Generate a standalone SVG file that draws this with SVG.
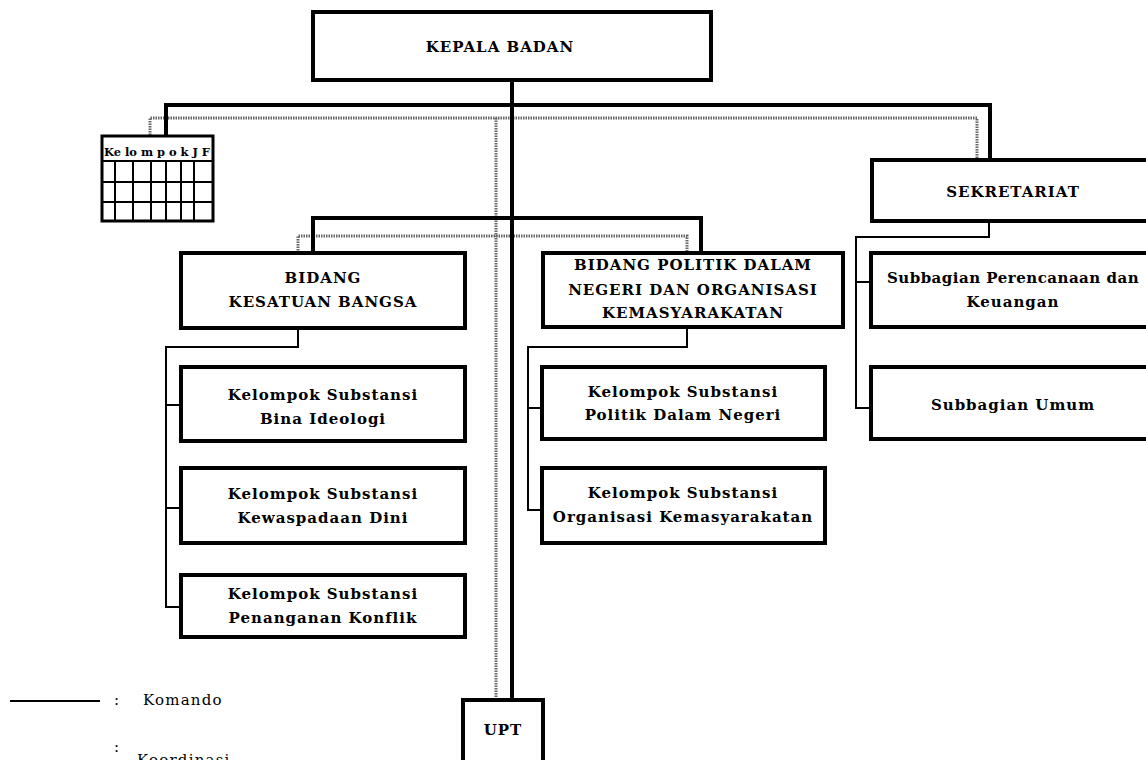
<svg xmlns="http://www.w3.org/2000/svg" width="1146" height="760" viewBox="0 0 1146 760">
<style>
.box{fill:#fff;stroke:#000;stroke-width:4}
.cmd{stroke:#000;stroke-width:4;fill:none}
.thin{stroke:#000;stroke-width:2;fill:none}
.coord{stroke:#666;stroke-width:3;stroke-dasharray:1.5 1;fill:none}
.grid{stroke:#000;stroke-width:2;fill:none}
.t{font-family:"DejaVu Serif","Liberation Serif",serif;font-weight:bold;font-size:15px;letter-spacing:1px;text-anchor:middle;fill:#000}
.lg{font-family:"DejaVu Serif","Liberation Serif",serif;font-size:15px;letter-spacing:1.2px;fill:#000}
</style>
<rect width="1146" height="760" fill="#fff"/>
<g id="connectors">
  <path class="coord" d="M150,135 V118 H977 V160"/>
  <path class="coord" d="M496,118 V700"/>
  <path class="coord" d="M298,253 V236 H687 V253"/>
  <path class="cmd" d="M512,80 V700"/>
  <path class="cmd" d="M166,135 V105 H990 V160"/>
  <path class="cmd" d="M313,253 V218 H701 V253"/>
  <path class="thin" d="M298,328 V347 H166 V607 H181 M166,405 H181 M166,508 H181"/>
  <path class="thin" d="M687,327 V347 H528 V510 H542 M528,408 H542"/>
  <path class="thin" d="M989,221 V237 H856 V408 H871 M856,282 H871"/>
</g>
<g id="kepala-badan">
  <rect class="box" x="313" y="12" width="398" height="68"/>
  <text class="t" x="500" y="52">KEPALA BADAN</text>
</g>
<g id="kelompok-jf">
  <rect x="102" y="136" width="111" height="85" fill="#fff" stroke="#000" stroke-width="3"/>
  <path class="grid" d="M102,161 H213 M102,182 H213 M102,202 H213 M115,161 V221 M133,161 V221 M151,161 V221 M166,161 V221 M181,161 V221 M194,161 V221"/>
  <text x="157" y="156" font-family="DejaVu Serif, serif" font-weight="bold" font-size="11" text-anchor="middle" textLength="106" lengthAdjust="spacingAndGlyphs">Ke lo m p o k J F</text>
</g>
<g id="sekretariat">
  <rect class="box" x="872" y="160" width="282" height="61"/>
  <text class="t" x="1013" y="197">SEKRETARIAT</text>
</g>
<g id="subbagian-perencanaan">
  <rect class="box" x="871" y="253" width="283" height="74"/>
  <text class="t" x="1013" y="283" style="letter-spacing:0.5px">Subbagian Perencanaan dan</text>
  <text class="t" x="1013" y="307">Keuangan</text>
</g>
<g id="subbagian-umum">
  <rect class="box" x="871" y="367" width="283" height="72"/>
  <text class="t" x="1013" y="410">Subbagian Umum</text>
</g>
<g id="bidang-kesatuan">
  <rect class="box" x="181" y="253" width="284" height="75"/>
  <text class="t" x="323" y="283">BIDANG</text>
  <text class="t" x="323" y="307">KESATUAN BANGSA</text>
</g>
<g id="bidang-politik">
  <rect class="box" x="543" y="253" width="300" height="74"/>
  <text class="t" x="693" y="270">BIDANG POLITIK DALAM</text>
  <text class="t" x="693" y="295">NEGERI DAN ORGANISASI</text>
  <text class="t" x="693" y="318">KEMASYARAKATAN</text>
</g>
<g id="ks-bina-ideologi">
  <rect class="box" x="181" y="367" width="284" height="74"/>
  <text class="t" x="323" y="400">Kelompok Substansi</text>
  <text class="t" x="323" y="424">Bina Ideologi</text>
</g>
<g id="ks-kewaspadaan">
  <rect class="box" x="181" y="468" width="284" height="75"/>
  <text class="t" x="323" y="499">Kelompok Substansi</text>
  <text class="t" x="323" y="523">Kewaspadaan Dini</text>
</g>
<g id="ks-penanganan">
  <rect class="box" x="181" y="575" width="284" height="62"/>
  <text class="t" x="323" y="599">Kelompok Substansi</text>
  <text class="t" x="323" y="623">Penanganan Konflik</text>
</g>
<g id="ks-politik">
  <rect class="box" x="542" y="367" width="283" height="72"/>
  <text class="t" x="683" y="397">Kelompok Substansi</text>
  <text class="t" x="683" y="420">Politik Dalam Negeri</text>
</g>
<g id="ks-organisasi">
  <rect class="box" x="542" y="468" width="283" height="75"/>
  <text class="t" x="683" y="498">Kelompok Substansi</text>
  <text class="t" x="683" y="522">Organisasi Kemasyarakatan</text>
</g>
<g id="upt">
  <rect class="box" x="463" y="700" width="80" height="70"/>
  <text class="t" x="503" y="735">UPT</text>
</g>
<g id="legend">
  <line x1="10" y1="701" x2="100" y2="701" stroke="#000" stroke-width="2"/>
  <text class="lg" x="114" y="705">:</text>
  <text class="lg" x="143" y="705">Komando</text>
  <text class="lg" x="114" y="752">:</text>
  <text class="lg" x="137" y="765">Koordinasi</text>
</g>
</svg>
